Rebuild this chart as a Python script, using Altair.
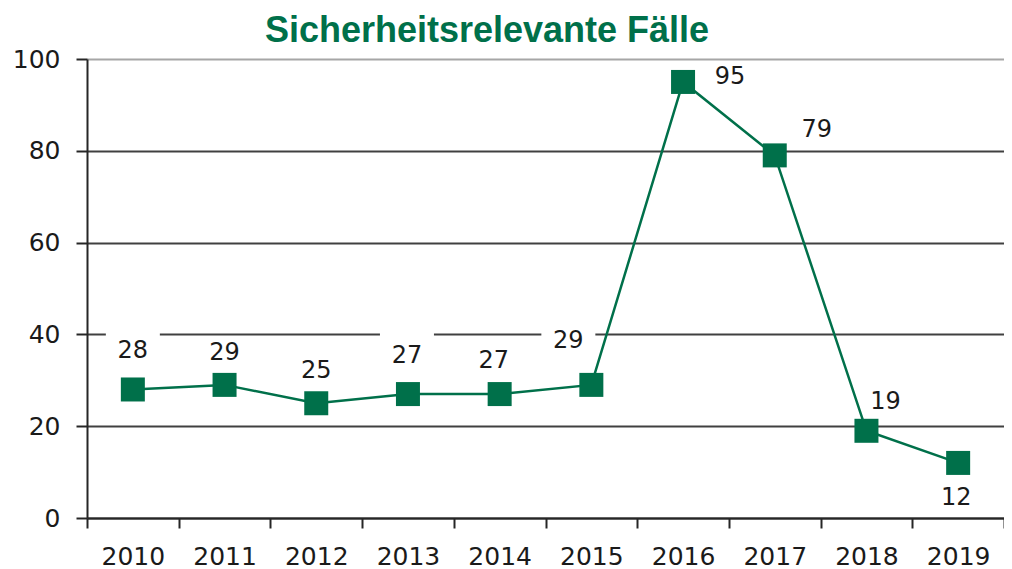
import altair as alt
import pandas as pd

# ---- data ----
years = ["2010", "2011", "2012", "2013", "2014", "2015", "2016", "2017", "2018", "2019"]
cases = [28, 29, 25, 27, 27, 29, 95, 79, 19, 12]
y_ticks = [0, 20, 40, 60, 80, 100]
title_text = "Sicherheitsrelevante Fälle"

# ---- styles (label placement offsets in px, per year) ----
label_offsets = {
    "2010": (0, -38), "2011": (0, -32), "2012": (0, -32), "2013": (-1, -38),
    "2014": (-6, -33), "2015": (-23, -44), "2016": (47, -5), "2017": (42, -25),
    "2018": (19, -29), "2019": (-2, 35),
}
boxed = ["2010", "2013", "2015"]

GREEN = "#00704A"
TXT = "#1a1a1a"

df = pd.DataFrame({"year": years, "cases": cases})

x = alt.X(
    "year:O",
    sort=years,
    bandPosition=0.5,
    scale=alt.Scale(type="band", paddingInner=0, paddingOuter=0),
    axis=alt.Axis(
        title=None, labelAngle=0, tickBand="extent", grid=False,
        tickSize=10, labelPadding=16, labelFontSize=25, labelFont="DejaVu Sans",
        labelColor=TXT, domainColor="#262626", domainWidth=2,
        tickColor="#262626", tickWidth=2,
    ),
)
y = alt.Y(
    "cases:Q",
    scale=alt.Scale(domain=[0, 100], nice=False),
    axis=alt.Axis(
        title=None, values=y_ticks, tickSize=11, labelPadding=16,
        labelFontSize=25, labelFont="DejaVu Sans", labelColor=TXT,
        domainColor="#262626", domainWidth=2, tickColor="#262626", tickWidth=2,
        gridWidth=2,
        gridColor=alt.condition("datum.value == 100", alt.value("#a6a6a6"), alt.value("#404040")),
    ),
)

base = alt.Chart(df).encode(x=x, y=y)

layers = []
box_path = "M-1,-0.93L1,-0.93L1,0.93L-1,0.93Z"
for yr in boxed:
    dx, dy = label_offsets[yr]
    layers.append(
        base.transform_filter(alt.FieldOneOfPredicate(field="year", oneOf=[yr]))
        .mark_point(shape=box_path, size=2916, filled=True, color="white",
                    opacity=1, strokeWidth=0, xOffset=dx, yOffset=dy)
    )

layers.append(base.mark_line(color=GREEN, strokeWidth=2.5))
layers.append(base.mark_point(shape="square", size=576, filled=True, color=GREEN, opacity=1))

for yr in years:
    dx, dy = label_offsets[yr]
    layers.append(
        base.transform_filter(alt.FieldOneOfPredicate(field="year", oneOf=[yr]))
        .mark_text(dx=dx, dy=dy, fontSize=24, font="DejaVu Sans", color=TXT, baseline="middle")
        .encode(text="cases:Q")
    )

# chart title (drawn as a text mark above the plot area)
title_layer = alt.Chart(pd.DataFrame({"t": [title_text]})).mark_text(
    font="Liberation Sans", fontSize=36, fontWeight="bold", color=GREEN,
    align="center", baseline="alphabetic",
).encode(x=alt.value(400), y=alt.value(-17), text="t:N")
layers.append(title_layer)

chart = alt.layer(*layers).properties(
    width=917,
    height=459,
    autosize=alt.AutoSizeParams(type="none"),
    padding={"left": 79, "top": 51, "right": 0, "bottom": 60},
).configure_view(stroke=None).configure(background="white")

chart.save("out.html", embed_options={"renderer": "svg", "actions": False})
